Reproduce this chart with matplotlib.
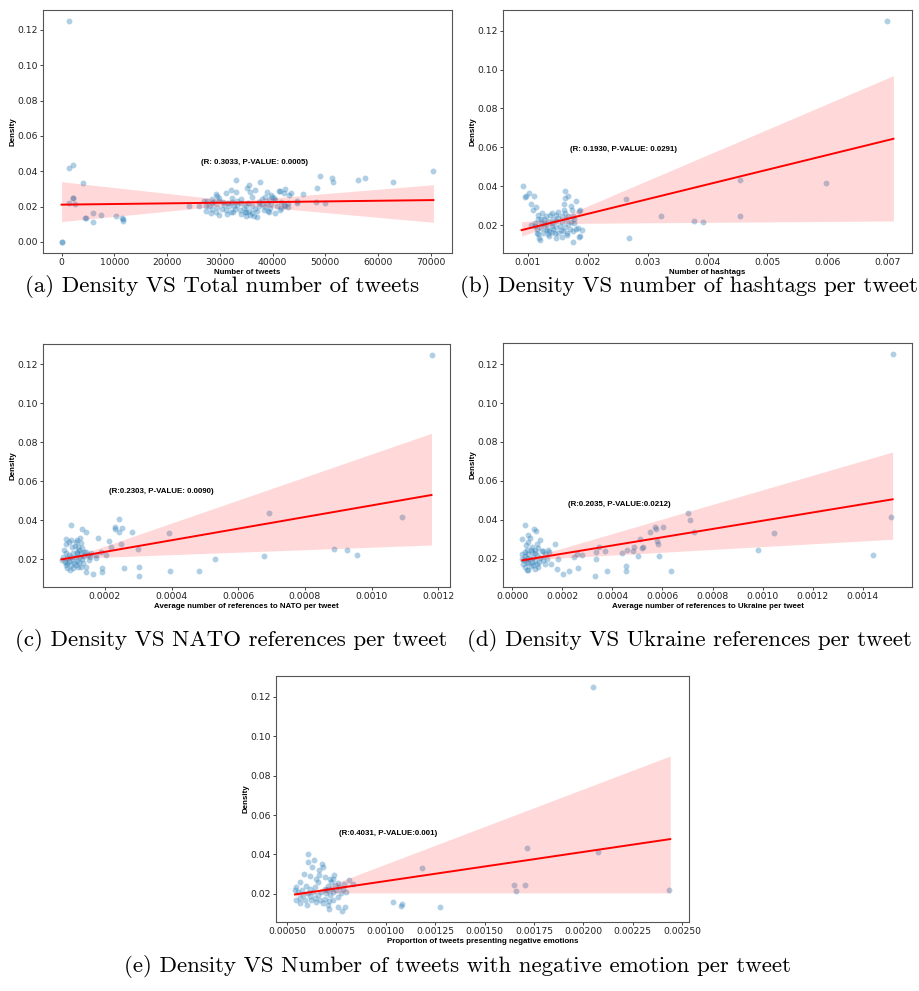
import matplotlib.pyplot as plt

plt.rcParams['font.family'] = ['Liberation Sans', 'DejaVu Sans']

# (a) density vs total number of tweets
a_x = [1380, 1440, 2130, 4000, 2130, 2100, 1440, 2450, 0, 0, 4400, 4600, 6000, 6000, 7500,
       10300, 11500, 11700, 11600, 24200, 26000, 49050, 51250, 51400, 56150, 57450, 62900,
       70500, 48500, 48250, 49900, 45700, 44600, 44700, 43200, 43450, 42400, 41450,
       33000, 35500, 37700, 36750, 35200, 35800, 32200, 31100, 29300, 29400, 33100, 38950,
       39900, 39800, 41150, 42150, 43000, 42900, 41650, 41450, 40400, 39150, 38500, 38000,
       37050, 37000, 36450, 35650, 34900, 34700, 33750, 32900, 32050, 31250, 30500, 29300,
       28350, 27350, 26950, 27650, 28500, 28900, 29850, 30600, 31600, 32350, 33300, 34100,
       35000, 36100, 37500, 38950, 39400, 40500, 41650, 42400, 27950, 29500, 31700, 32700,
       34550, 35500, 36750, 38300, 39550, 40800, 33950, 36100, 31400, 29850, 28600, 27350,
       32350, 33950, 36100, 38000, 38600, 40250, 29800, 28600, 30850, 33250, 35400, 37400,
       39800, 42100, 39400, 34900, 32550]
a_y = [0.125, 0.0416, 0.0437, 0.0333, 0.0246, 0.0248, 0.022, 0.0214, 0.0, 0.0, 0.0135, 0.0135,
       0.0162, 0.0113, 0.0154, 0.0145, 0.0137, 0.012, 0.0131, 0.0201, 0.0205, 0.0374, 0.036,
       0.034, 0.0352, 0.0363, 0.0337, 0.040, 0.0305, 0.0228, 0.022, 0.027, 0.0233, 0.022,
       0.0267, 0.0277, 0.030, 0.029,
       0.0352, 0.0322, 0.034, 0.0295, 0.0303, 0.028, 0.0293, 0.0275, 0.0271, 0.0258, 0.0284,
       0.028, 0.0254, 0.0265, 0.029, 0.0275, 0.022, 0.0196, 0.019, 0.0179, 0.0166, 0.0175,
       0.0196, 0.0214, 0.0173, 0.0141, 0.0149, 0.0152, 0.0145, 0.0167, 0.0181, 0.0186, 0.0167,
       0.0181, 0.0186, 0.0167, 0.0164, 0.0177, 0.0233, 0.0233, 0.0243, 0.0224, 0.0233, 0.0228,
       0.022, 0.0224, 0.0233, 0.022, 0.0205, 0.0201, 0.0201, 0.022, 0.0239, 0.0239, 0.0224,
       0.0205, 0.0205, 0.0196, 0.0201, 0.0205, 0.019, 0.0177, 0.0186, 0.0183, 0.019, 0.0205,
       0.0158, 0.0166, 0.0158, 0.0152, 0.0186, 0.0205, 0.025, 0.0243, 0.0252, 0.0243, 0.0252,
       0.0246, 0.0246, 0.022, 0.0209, 0.0209, 0.022, 0.0224, 0.0214, 0.0209, 0.0167, 0.0171,
       0.0167]
a_fit_x = [0, 70500]
a_fit_y = [0.0211, 0.0237]
a_band_x = [0, 33000, 70500]
a_band_lo = [0.0115, 0.0212, 0.0111]
a_band_hi = [0.0341, 0.0232, 0.0324]

# (b) density vs hashtags per tweet
b_x = [0.0070, 0.000924, 0.00597, 0.00454, 0.00454, 0.00264, 0.00322, 0.00377, 0.00392,
       0.00269, 0.000967, 0.00102, 0.00096, 0.0011, 0.00105, 0.00109, 0.00114, 0.00118,
       0.00124, 0.00106, 0.00112, 0.00116, 0.00118, 0.00121, 0.00119, 0.00127, 0.0013,
       0.00133, 0.00136, 0.0014, 0.00142, 0.00146, 0.00147, 0.0015, 0.00154, 0.00157, 0.0016,
       0.0016, 0.00162, 0.00163, 0.00168, 0.00172, 0.00174, 0.00166, 0.0017, 0.00176, 0.00178,
       0.00181, 0.00184, 0.00187, 0.00185, 0.00188, 0.0019, 0.00186, 0.00165, 0.00157,
       0.00151, 0.00137, 0.00131, 0.00123, 0.00118, 0.00113, 0.00123, 0.0013, 0.00136,
       0.00142, 0.00148, 0.00155, 0.00162, 0.00167, 0.00173, 0.00164, 0.00157, 0.00148,
       0.00141, 0.00134, 0.00127, 0.00122, 0.00116, 0.00125, 0.00134, 0.00141, 0.00151,
       0.00159, 0.00176, 0.00181, 0.00168, 0.00176, 0.00178, 0.0014, 0.00147, 0.00162]
b_y = [0.125, 0.040, 0.0414, 0.0433, 0.0246, 0.0332, 0.0248, 0.0221, 0.0214, 0.0135, 0.0352,
       0.0363, 0.0342, 0.0352, 0.031, 0.028, 0.0292, 0.0251, 0.0263, 0.0198, 0.0212, 0.0178,
       0.0152, 0.0123, 0.0133, 0.0229, 0.0203, 0.0178, 0.0143, 0.0195, 0.0229, 0.0161, 0.0135,
       0.0267, 0.0195, 0.0215, 0.0277, 0.0306, 0.0339, 0.0375, 0.0352, 0.0298, 0.028, 0.0161,
       0.0178, 0.0113, 0.0208, 0.0322, 0.0185, 0.0143, 0.027, 0.0275, 0.0174, 0.014, 0.0147,
       0.014, 0.0238, 0.025, 0.0246, 0.0229, 0.0229, 0.0195, 0.0186, 0.0174, 0.0169, 0.0181,
       0.0188, 0.0174, 0.0188, 0.0203, 0.0215, 0.0229, 0.0246, 0.0221, 0.0209, 0.0221, 0.0203,
       0.0209, 0.0161, 0.0161, 0.0152, 0.0164, 0.0161, 0.0169, 0.0169, 0.0181, 0.0246, 0.0246,
       0.0229, 0.0263, 0.025, 0.0263]
b_fit_x = [0.0009, 0.0071]
b_fit_y = [0.0174, 0.0644]
b_band_x = [0.0009, 0.0015, 0.0071]
b_band_lo = [0.0143, 0.0208, 0.0221]
b_band_hi = [0.0217, 0.0232, 0.0969]

# (c) density vs NATO references per tweet
c_x = [0.00118, 0.000692, 0.00109, 0.000392, 0.000888, 0.000925, 0.000955, 0.000677,
       0.000531, 0.000481, 0.000395, 0.000303, 0.000301, 0.000257, 0.00019, 0.000165, 0.0003,
       0.000282, 0.000243, 0.00025, 0.000229, 0.000229, 0.000243, 0.000247, 0.000217,
       0.000212, 0.000179, 0.000192, 0.000202, 0.000187, 0.000172, 0.000174, 0.000157,
       0.000142, 0.000144, 0.000142, 0.000142, 0.000132, 0.000097,
       0.000082, 0.000082, 0.000092, 0.000099, 0.000112, 0.000117, 0.000125, 0.000127,
       0.000102, 0.000109, 0.000119, 0.000132, 0.000122, 0.000127, 0.000137, 0.000115,
       0.000105, 0.000092, 0.000082, 0.000075, 0.000072, 0.000079, 0.000087, 0.000097,
       0.000085, 0.000095, 0.000105, 0.000112, 0.000122, 0.000132, 0.000125, 0.000112,
       0.000102, 0.000092, 0.000115, 0.000135, 0.000119, 0.000107, 0.000085, 0.000137,
       0.000149, 0.000155, 0.000117, 0.000099, 0.000077, 0.000129, 0.000152, 0.000082]
c_y = [0.1248, 0.0435, 0.0414, 0.0332, 0.025, 0.0246, 0.0221, 0.0215, 0.0202, 0.0138, 0.0138,
       0.0161, 0.0113, 0.0155, 0.0135, 0.0121, 0.0253, 0.0337, 0.0404, 0.0361, 0.0363, 0.0352,
       0.034, 0.0277, 0.026, 0.0294, 0.0306, 0.0152, 0.0221, 0.0238, 0.0221, 0.0203, 0.0229,
       0.0238, 0.0161, 0.0135, 0.034, 0.0352, 0.0375,
       0.0301, 0.0275, 0.0289, 0.0298, 0.0289, 0.0298, 0.0306, 0.028, 0.0263, 0.0267, 0.0263,
       0.0255, 0.0246, 0.0229, 0.0238, 0.0238, 0.0229, 0.0221, 0.0229, 0.0212, 0.0195, 0.0186,
       0.0178, 0.0169, 0.0152, 0.0144, 0.0152, 0.0169, 0.0186, 0.0198, 0.0212, 0.0209, 0.0195,
       0.0191, 0.0191, 0.0181, 0.0161, 0.0181, 0.0203, 0.0215, 0.0221, 0.0209, 0.0229, 0.0212,
       0.0246, 0.0161, 0.0195, 0.0169]
c_fit_x = [0.00007, 0.00118]
c_fit_y = [0.0198, 0.0529]
c_band_x = [0.00007, 0.00013, 0.00118]
c_band_lo = [0.0188, 0.0205, 0.0272]
c_band_hi = [0.0208, 0.0225, 0.0846]

# (d) density vs Ukraine references per tweet
d_x = [0.001523, 0.001512, 0.001045, 0.00098, 0.001443, 0.000703, 0.000711, 0.000727,
       0.000602, 0.000575, 0.000569, 0.000551, 0.000512, 0.000578, 0.000583, 0.000588,
       0.000635, 0.000524, 0.000518, 0.000486, 0.000502, 0.000482, 0.00046, 0.000439,
       0.000455, 0.000454, 0.000372, 0.000378, 0.000347, 0.000335, 0.000335, 0.000331,
       0.000278, 0.000258, 0.000247, 0.000262, 0.000228, 0.000204, 0.000178, 0.000184,
       0.000171, 0.000153, 0.000148, 0.000124, 0.000144, 0.000131,
       0.000051, 0.000087, 0.000093, 0.00004, 0.000064, 0.000071, 0.000111, 0.000097,
       0.000064, 0.000055, 0.000077, 0.00009, 0.000104, 0.000117, 0.000037, 0.000051,
       0.000064, 0.000077, 0.000037, 0.000047, 0.000057, 0.000071, 0.000084, 0.000097,
       0.000111, 0.000041, 0.000052, 0.000063, 0.000073, 0.00009, 0.000097, 0.000108,
       0.000121, 0.000064, 0.000077, 0.00009, 0.000081, 0.000057, 0.000051, 0.00009, 0.00006,
       0.000073, 0.000057, 0.000104, 0.000131, 0.000137]
d_y = [0.1251, 0.0415, 0.0333, 0.0248, 0.0221, 0.0436, 0.0402, 0.0337, 0.0364, 0.0354, 0.0362,
       0.034, 0.0304, 0.0292, 0.0279, 0.0215, 0.0137, 0.0262, 0.0255, 0.0262, 0.0217, 0.0239,
       0.0244, 0.0232, 0.0162, 0.0137, 0.0239, 0.0137, 0.0262, 0.0236, 0.0202, 0.0113, 0.0222,
       0.0224, 0.021, 0.0156, 0.0137, 0.0121, 0.0147, 0.02, 0.0275, 0.0174, 0.0236, 0.0241,
       0.0245, 0.0176,
       0.0376, 0.0354, 0.0342, 0.0301, 0.0321, 0.0306, 0.0296, 0.0279, 0.0289, 0.027, 0.0262,
       0.0248, 0.0255, 0.0241, 0.0227, 0.0236, 0.0227, 0.0236, 0.0202, 0.0193, 0.0207, 0.0202,
       0.021, 0.0219, 0.0207, 0.0173, 0.0159, 0.0145, 0.0162, 0.015, 0.0176, 0.0185, 0.0197,
       0.018, 0.0185, 0.019, 0.0168, 0.0185, 0.0215, 0.0231, 0.0248, 0.0244, 0.0142, 0.0159,
       0.0227, 0.0202]
d_fit_x = [0.00004, 0.00152]
d_fit_y = [0.0193, 0.0506]
d_band_x = [0.00004, 0.0001, 0.00152]
d_band_lo = [0.0183, 0.0198, 0.0301]
d_band_hi = [0.0203, 0.0218, 0.0749]

# (e) density vs proportion of tweets with negative emotion
e_x = [0.00205, 0.002434, 0.002073, 0.001715, 0.001703, 0.001648, 0.001661, 0.001184,
       0.001273, 0.00108, 0.001078, 0.001034, 0.000812, 0.000833, 0.000794, 0.000779,
       0.000757, 0.000712, 0.000708,
       0.000608, 0.000606, 0.000634, 0.000626, 0.000584, 0.000675, 0.000681, 0.000661,
       0.000664, 0.00069, 0.00074, 0.000735, 0.000715, 0.000618, 0.000644, 0.000655,
       0.000567, 0.000547, 0.000539, 0.000555, 0.000577, 0.000594, 0.000614, 0.00063,
       0.000606, 0.000581, 0.000564, 0.000547, 0.000564, 0.000601, 0.000639, 0.000656,
       0.000673, 0.00069, 0.000706, 0.000723, 0.000731, 0.000749, 0.000765, 0.000782,
       0.000773, 0.000757, 0.000735, 0.000712, 0.00069, 0.000668, 0.000648, 0.000623,
       0.000695, 0.000715, 0.000681, 0.000799, 0.00079, 0.000757, 0.000639, 0.000589,
       0.000614, 0.000745, 0.000723, 0.000702]
e_y = [0.1249, 0.022, 0.0413, 0.0434, 0.0247, 0.0246, 0.0215, 0.0332, 0.0134, 0.0151, 0.0136,
       0.0161, 0.0269, 0.0249, 0.0134, 0.0114, 0.0134, 0.0121, 0.0146,
       0.0401, 0.036, 0.0374, 0.0336, 0.0303, 0.0351, 0.0338, 0.032, 0.0295, 0.0286, 0.0295,
       0.0276, 0.0273, 0.029, 0.0278, 0.0261, 0.0261, 0.0236, 0.0219, 0.021, 0.0222, 0.0239,
       0.0227, 0.021, 0.0202, 0.0193, 0.0181, 0.0168, 0.0154, 0.0142, 0.0181, 0.0193, 0.021,
       0.0227, 0.0239, 0.0227, 0.021, 0.0219, 0.0236, 0.0227, 0.0205, 0.0185, 0.0171, 0.0164,
       0.0176, 0.0168, 0.0159, 0.0168, 0.0202, 0.0193, 0.0154, 0.021, 0.0249, 0.0256, 0.0236,
       0.0168, 0.0188, 0.0244, 0.0261, 0.0219]
e_fit_x = [0.00054, 0.00244]
e_fit_y = [0.0197, 0.0478]
e_band_x = [0.00054, 0.00066, 0.00244]
e_band_lo = [0.0188, 0.0205, 0.0205]
e_band_hi = [0.0207, 0.0222, 0.090]

W, H = 919, 991
fig = plt.figure(figsize=(W / 100, H / 100), dpi=100)
fig.patch.set_facecolor('white')


def panel(left, top, right, bottom):
    return fig.add_axes([left / W, 1 - bottom / H, (right - left) / W, (bottom - top) / H])


def regplot(ax, x, y, fx, fy, bx, blo, bhi, xlabel, note, nx, ny):
    ax.scatter(x, y, s=18, color='#1f77b4', alpha=0.35, linewidths=0, zorder=2)
    ax.fill_between(bx, blo, bhi, color='red', alpha=0.15, linewidth=0, zorder=3)
    ax.plot(fx, fy, color='red', lw=1.4, zorder=4)
    ax.set_xlabel(xlabel, fontsize=5.7, fontweight='bold', labelpad=1.2)
    ax.set_ylabel('Density', fontsize=5.7, fontweight='bold', labelpad=0.5)
    ax.tick_params(labelsize=6.7, length=2, width=0.6, pad=1.5, colors='#222222')
    for lbl in ax.get_xticklabels() + ax.get_yticklabels():
        lbl.set_family('DejaVu Sans')
    for s in ax.spines.values():
        s.set_color('#555555')
        s.set_linewidth(0.8)
    ax.text(nx, ny, note, fontsize=5.7, fontweight='bold', ha='center', va='center')


def caption(xc, yc, txt):
    fig.text(xc / W, 1 - yc / H, txt, family='cmr10', fontsize=16.5, ha='center', va='center')


ax = panel(43, 10, 452, 253)
regplot(ax, a_x, a_y, a_fit_x, a_fit_y, a_band_x, a_band_lo, a_band_hi,
        'Number of tweets', '(R: 0.3033, P-VALUE: 0.0005)', 36600, 0.045)
ax = panel(503, 10, 912, 253)
regplot(ax, b_x, b_y, b_fit_x, b_fit_y, b_band_x, b_band_lo, b_band_hi,
        'Number of hashtags', '(R: 0.1930, P-VALUE: 0.0291)', 0.0026, 0.0589)
ax = panel(43, 344, 450, 587)
regplot(ax, c_x, c_y, c_fit_x, c_fit_y, c_band_x, c_band_lo, c_band_hi,
        'Average number of references to NATO per tweet', '(R:0.2303, P-VALUE: 0.0090)',
        0.000369, 0.0549)
ax = panel(503, 343, 912, 587)
regplot(ax, d_x, d_y, d_fit_x, d_fit_y, d_band_x, d_band_lo, d_band_hi,
        'Average number of references to Ukraine per tweet', '(R:0.2035, P-VALUE:0.0212)',
        0.000427, 0.0479)
ax = panel(276, 676, 689, 922)
regplot(ax, e_x, e_y, e_fit_x, e_fit_y, e_band_x, e_band_lo, e_band_hi,
        'Proportion of tweets presenting negative emotions', '(R:0.4031, P-VALUE:0.001)',
        0.001014, 0.0508)

caption(222, 286, '(a) Density VS Total number of tweets')
caption(689, 286, '(b) Density VS number of hashtags per tweet')
caption(231, 641, '(c) Density VS NATO references per tweet')
caption(689, 641, '(d) Density VS Ukraine references per tweet')
caption(457, 966, '(e) Density VS Number of tweets with negative emotion per tweet')

fig.savefig('out.png', dpi=100, facecolor='white')
